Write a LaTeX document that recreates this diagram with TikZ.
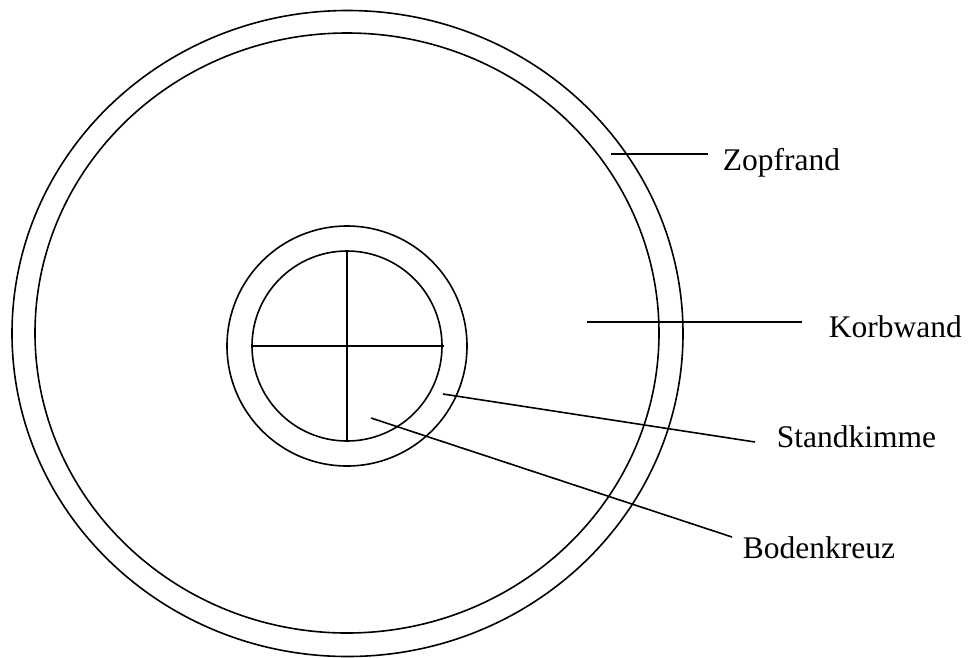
\documentclass[tikz,border=0pt]{standalone}
\usepackage{fontspec}
\setmainfont{Liberation Serif}
\begin{document}
\begin{tikzpicture}[x=1pt,y=-1pt,line width=1.6pt,
  lbl/.style={anchor=base west,inner sep=0pt,font=\fontsize{31.5}{36}\selectfont}]
\useasboundingbox (0,0) rectangle (968,657);
% basket outline
\draw (347.5,333.5) ellipse [x radius=335.5pt, y radius=323pt];
\draw (347,333) ellipse [x radius=312pt, y radius=300pt];
% base
\coordinate (c) at (347,346);
\draw (c) circle [radius=120pt];
\draw (c) circle [radius=95pt];
\coordinate (vt) at (347,251);
\coordinate (vb) at (347,442);
\coordinate (hl) at (251,346);
\coordinate (hr) at (444,346);
\draw (vt) -- (vb);
\draw (hl) -- (hr);
% labels
\node[lbl] (zopf) at (722,170) {Zopfrand};
\node[lbl] (korb) at (828,337) {Korbwand};
\node[lbl] (stand) at (776,447) {Standkimme};
\node[lbl] (boden) at (742,558) {Bodenkreuz};
% leader lines
\coordinate (z1) at (611,154); \coordinate (z2) at (708,154);
\coordinate (k1) at (587,322); \coordinate (k2) at (802,322);
\coordinate (s1) at (443,394); \coordinate (s2) at (755,442);
\coordinate (b1) at (371,418); \coordinate (b2) at (732,537);
\draw (z1) -- (z2);
\draw (k1) -- (k2);
\draw (s1) -- (s2);
\draw (b1) -- (b2);
\end{tikzpicture}
\end{document}
